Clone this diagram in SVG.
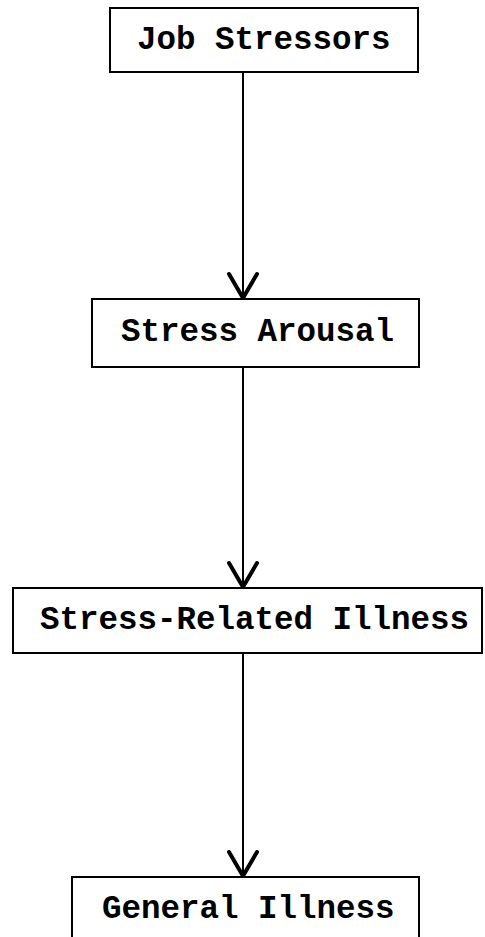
<svg xmlns="http://www.w3.org/2000/svg" width="485" height="937" viewBox="0 0 485 937">
  <style>
    .box { fill: #ffffff; stroke: #000000; stroke-width: 2; }
    .label { font-family: "Liberation Mono", "Courier New", monospace; font-weight: bold; font-size: 32.5px; fill: #000000; }
    .wire { stroke: #000000; stroke-width: 2; fill: none; }
    .head { stroke: #000000; stroke-width: 4; fill: none; stroke-linecap: round; stroke-linejoin: round; }
  </style>
  <rect width="485" height="937" fill="#ffffff"/>

  <g id="connectors">
    <line class="wire" x1="243" y1="72" x2="243" y2="298"/>
    <polyline class="head" points="229,274 243,298 257,274"/>
    <line class="wire" x1="243" y1="367" x2="243" y2="587"/>
    <polyline class="head" points="229,563 243,587 257,563"/>
    <line class="wire" x1="243" y1="653" x2="243" y2="876"/>
    <polyline class="head" points="229,852 243,876 257,852"/>
  </g>

  <g id="job-stressors">
    <rect class="box" x="110" y="8" width="308" height="64"/>
    <text class="label" x="137" y="49">Job Stressors</text>
  </g>

  <g id="stress-arousal">
    <rect class="box" x="92" y="299" width="327" height="68"/>
    <text class="label" x="121" y="341">Stress Arousal</text>
  </g>

  <g id="stress-related-illness">
    <rect class="box" x="13" y="588" width="469" height="65"/>
    <text class="label" x="40" y="629">Stress-Related Illness</text>
  </g>

  <g id="general-illness">
    <rect class="box" x="72" y="877" width="347" height="80"/>
    <text class="label" x="102" y="918">General Illness</text>
  </g>
</svg>
